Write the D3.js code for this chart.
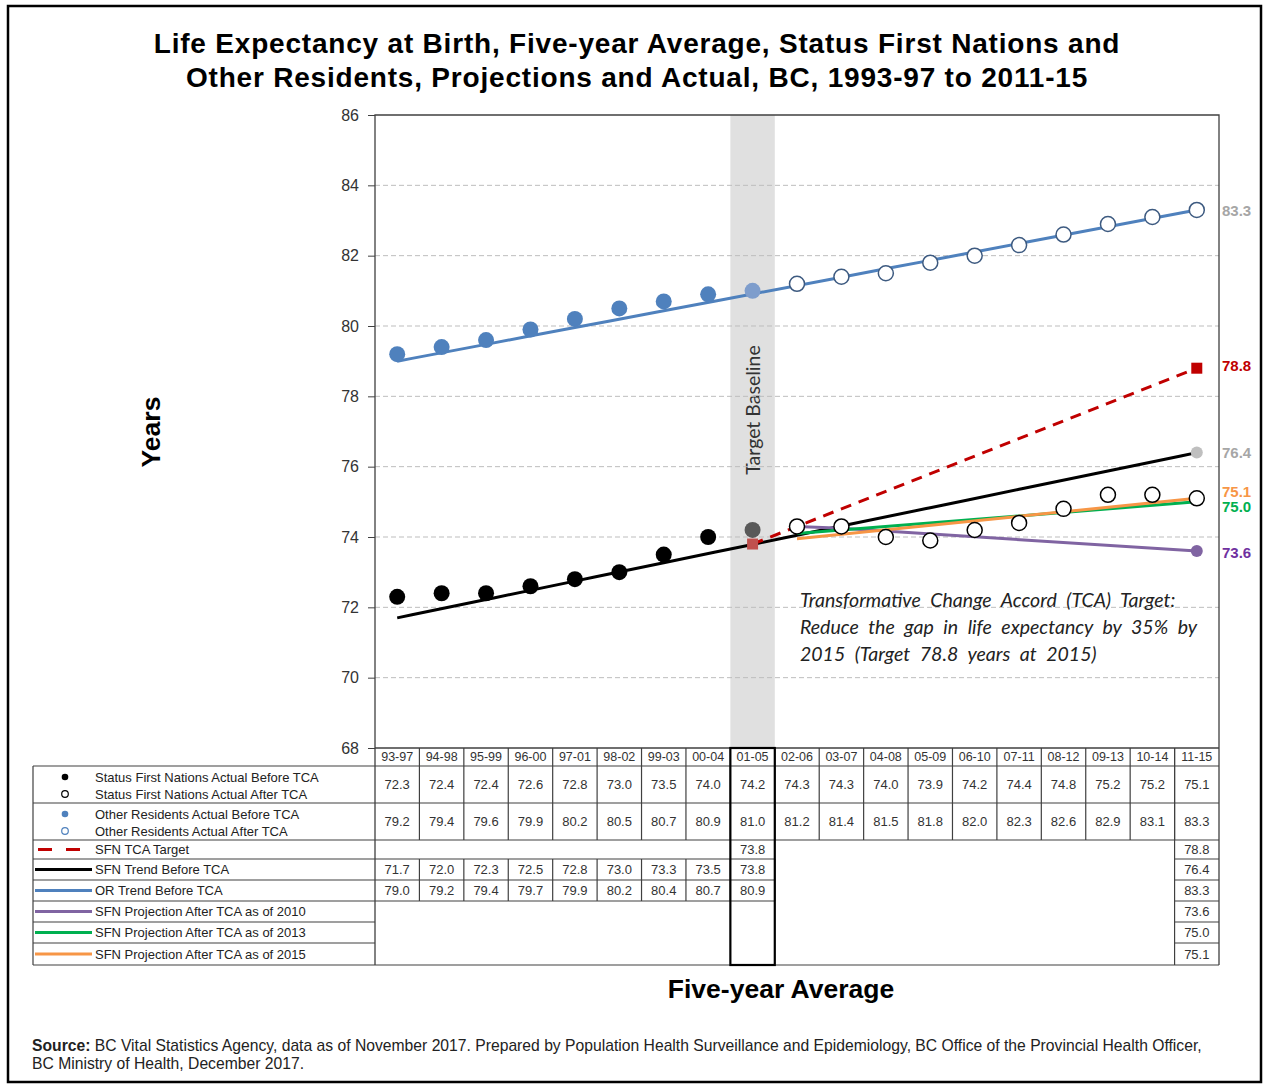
<!DOCTYPE html>
<html lang="en">
<head>
  <meta charset="UTF-8" />
  <title>Life Expectancy at Birth, Status First Nations and Other Residents</title>
  <style>
    body { margin: 0; background: #fff; }
    svg { display: block; font-family: "Liberation Sans", Arial, sans-serif; }
  </style>
  <script src="https://d3js.org/d3.v7.min.js"></script>
</head>
<body>
<svg id="chart" width="1266" height="1084"></svg>
<script>
  // five-year periods
  const periods = ['93-97','94-98','95-99','96-00','97-01','98-02','99-03','00-04','01-05','02-06',
                   '03-07','04-08','05-09','06-10','07-11','08-12','09-13','10-14','11-15'];
  const baselineIdx = 8;

  const sfnActual = [72.3,72.4,72.4,72.6,72.8,73.0,73.5,74.0,74.2,74.3,74.3,74.0,73.9,74.2,74.4,74.8,75.2,75.2,75.1];
  const orActual  = [79.2,79.4,79.6,79.9,80.2,80.5,80.7,80.9,81.0,81.2,81.4,81.5,81.8,82.0,82.3,82.6,82.9,83.1,83.3];
  const N = null;
  const tcaTarget = [N,N,N,N,N,N,N,N,73.8,N,N,N,N,N,N,N,N,N,78.8];
  const sfnTrend  = [71.7,72.0,72.3,72.5,72.8,73.0,73.3,73.5,73.8,N,N,N,N,N,N,N,N,N,76.4];
  const orTrend   = [79.0,79.2,79.4,79.7,79.9,80.2,80.4,80.7,80.9,N,N,N,N,N,N,N,N,N,83.3];
  // projections: start, end from the table
  const proj2010  = [N,N,N,N,N,N,N,N,N,74.3,74.25,N,N,N,N,N,N,N,73.6];
  const proj2013  = [N,N,N,N,N,N,N,N,N,74.1,N,N,N,N,N,N,N,N,75.0];
  const proj2015  = [N,N,N,N,N,N,N,N,N,73.95,N,N,N,N,N,N,N,N,75.1];

  const yTicks = [68,70,72,74,76,78,80,82,84,86];

  const legendLabels = [
    ['Status First Nations Actual Before TCA', 'Status First Nations Actual After TCA'],
    ['Other Residents Actual Before TCA', 'Other Residents Actual After TCA'],
    'SFN TCA Target', 'SFN Trend Before TCA', 'OR Trend Before TCA',
    'SFN Projection After TCA as of 2010', 'SFN Projection After TCA as of 2013',
    'SFN Projection After TCA as of 2015'
  ];

  const C = {
    blue: '#4f81bd', blueBase: '#7e9dcc', black: '#000', blackBase: '#595959',
    red: '#c00000', redBase: '#c0504d', purple: '#8064a2', green: '#00b050', orange: '#f79646',
    grey: '#bfbfbf', line: '#404040'
  };

  const svg = d3.select('#chart');
  const pLeft = 375, pRight = 1219, pTop = 115, pBottom = 748, tableBottom = 965, legendLeft = 33;

  const x = d3.scaleBand().domain(periods).range([pLeft, pRight]);
  const bw = x.bandwidth();
  const cx = p => x(p) + bw / 2;
  const y = d3.scaleLinear().domain([68, 86]).range([pBottom, pTop]);

  svg.append('rect').attr('width', 1266).attr('height', 1084).attr('fill', '#fff');
  svg.append('rect').attr('x', 8).attr('y', 6).attr('width', 1253).attr('height', 1076)
    .attr('fill', 'none').attr('stroke', '#000').attr('stroke-width', 2.5);

  // title
  svg.append('text').attr('x', 637).attr('text-anchor', 'middle')
    .attr('font-size', 28).attr('font-weight', 'bold').attr('letter-spacing', 0.8)
    .selectAll('tspan').data([
      'Life Expectancy at Birth, Five-year Average, Status First Nations and',
      'Other Residents, Projections and Actual, BC, 1993-97 to 2011-15'])
    .join('tspan').attr('x', 637).attr('y', (d, i) => 53 + i * 34).text(d => d);

  // target baseline band
  svg.append('rect').attr('x', x(periods[baselineIdx])).attr('y', pTop)
    .attr('width', bw).attr('height', pBottom - pTop).attr('fill', '#e0e0e0');
  svg.append('text')
    .attr('transform', `translate(${cx(periods[baselineIdx]) + 7},410) rotate(-90)`)
    .attr('text-anchor', 'middle').attr('font-family', 'Lato, "Open Sans", sans-serif')
    .attr('font-size', 19.5).attr('fill', '#333').text('Target Baseline');

  // grid
  svg.append('g').selectAll('line').data(yTicks.filter(t => t > 68 && t < 86)).join('line')
    .attr('x1', pLeft).attr('x2', pRight).attr('y1', d => y(d)).attr('y2', d => y(d))
    .attr('stroke', '#bdbdbd').attr('stroke-dasharray', '5,3');

  // y axis
  const yAxis = svg.append('g').attr('transform', `translate(${pLeft},0)`)
    .call(d3.axisLeft(y).tickValues(yTicks).tickSize(7).tickPadding(9).tickFormat(d3.format('d')));
  yAxis.select('.domain').remove();
  yAxis.selectAll('line').attr('stroke', C.line);
  yAxis.selectAll('text').attr('font-size', 16).attr('fill', '#333')
    .attr('font-family', '"Liberation Sans", Arial, sans-serif');

  // plot frame
  svg.append('path')
    .attr('d', `M${pLeft},${tableBottom}V${pTop}H${pRight}V${tableBottom}M${pLeft},${pBottom}H${pRight}`)
    .attr('fill', 'none').attr('stroke', C.line).attr('stroke-width', 1.3);

  // lines
  const pts = arr => arr.map((v, i) => ({ p: periods[i], v })).filter(d => d.v != null);
  const line = d3.line().x(d => cx(d.p)).y(d => y(d.v));
  // fitted trends are straight lines: draw first to last point
  const trendLine = d3.line().x(d => cx(d.p)).y(d => y(d.v)).curve(d3.curveBundle.beta(0));
  const drawLine = (arr, color, dash, gen) => svg.append('path').datum(pts(arr))
    .attr('d', gen || line).attr('fill', 'none').attr('stroke', color).attr('stroke-width', 3)
    .attr('stroke-dasharray', dash || null);

  drawLine(orTrend, C.blue, null, trendLine);
  drawLine(sfnTrend, C.black, null, trendLine);
  drawLine(tcaTarget, C.red, '11,8');
  drawLine(proj2010, C.purple);
  drawLine(proj2013, C.green);
  drawLine(proj2015, C.orange);

  // end markers
  const last = periods.length - 1;
  svg.append('circle').attr('cx', cx(periods[last])).attr('cy', y(sfnTrend[last])).attr('r', 6).attr('fill', C.grey);
  svg.append('circle').attr('cx', cx(periods[last])).attr('cy', y(proj2010[last])).attr('r', 6).attr('fill', C.purple);
  [[baselineIdx, C.redBase], [last, C.red]].forEach(([i, col]) => {
    svg.append('rect').attr('x', cx(periods[i]) - 5.5).attr('y', y(tcaTarget[i]) - 5.5)
      .attr('width', 11).attr('height', 11).attr('fill', col);
  });

  // actual markers
  const drawDots = (arr, fill, base, openStroke) => {
    svg.append('g').selectAll('circle').data(arr).join('circle')
      .attr('cx', (d, i) => cx(periods[i])).attr('cy', d => y(d))
      .attr('r', (d, i) => i > baselineIdx ? 7.5 : 8)
      .attr('fill', (d, i) => i < baselineIdx ? fill : i === baselineIdx ? base : '#fff')
      .attr('stroke', (d, i) => i > baselineIdx ? openStroke : 'none')
      .attr('stroke-width', 1.5);
  };
  drawDots(orActual, C.blue, C.blueBase, '#3d5a80');
  drawDots(sfnActual, C.black, C.blackBase, '#000');

  // right-hand value labels
  const endLabels = [
    { v: orTrend[last], col: '#a6a6a6', dy: 1 },
    { v: tcaTarget[last], col: C.red, dy: -2 },
    { v: sfnTrend[last], col: '#a6a6a6', dy: 0 },
    { v: proj2015[last], col: C.orange, dy: -7 },
    { v: proj2013[last], col: C.green, dy: 5 },
    { v: proj2010[last], col: '#7030a0', dy: 2 }
  ];
  svg.append('g').selectAll('text').data(endLabels).join('text')
    .attr('x', pRight + 3).attr('y', d => y(d.v) + d.dy).attr('dy', '0.35em')
    .attr('font-size', 15).attr('font-weight', 'bold').attr('fill', d => d.col)
    .text(d => d.v.toFixed(1));

  // annotation
  svg.append('text').attr('font-family', 'Lato, "Open Sans", sans-serif').attr('font-style', 'italic')
    .attr('font-size', 19.5).attr('fill', '#222').attr('word-spacing', 5)
    .selectAll('tspan').data([
      'Transformative Change Accord (TCA) Target:',
      'Reduce the gap in life expectancy by 35% by',
      '2015 (Target 78.8 years at 2015)'])
    .join('tspan').attr('x', 800).attr('y', (d, i) => 607 + i * 27).text(d => d);

  // axis titles
  svg.append('text').attr('transform', 'translate(160,432) rotate(-90)').attr('text-anchor', 'middle')
    .attr('font-size', 26.5).attr('font-weight', 'bold').text('Years');
  svg.append('text').attr('x', 781).attr('y', 998).attr('text-anchor', 'middle')
    .attr('font-size', 26.5).attr('font-weight', 'bold').text('Five-year Average');

  // data table
  const rowEdges = [766, 803, 840, 859, 880, 901, 922, 943, 965];
  const tableRows = [sfnActual, orActual, tcaTarget, sfnTrend, orTrend, proj2010, proj2013, proj2015];
  const tg = svg.append('g').attr('stroke', C.line).attr('stroke-width', 1.2);
  const hl = (y0, x1, x2) => tg.append('line').attr('x1', x1).attr('x2', x2).attr('y1', y0).attr('y2', y0);
  const vl = (x0, y1, y2) => tg.append('line').attr('x1', x0).attr('x2', x0).attr('y1', y1).attr('y2', y2);
  const baseR = x(periods[baselineIdx]) + bw, lastL = x(periods[last]);

  [766, 803, 840, 965].forEach(e => hl(e, legendLeft, pRight));
  [859, 880, 901].forEach(e => { hl(e, legendLeft, baseR); hl(e, lastL, pRight); });
  [922, 943].forEach(e => { hl(e, legendLeft, pLeft); hl(e, lastL, pRight); });
  vl(legendLeft, 766, tableBottom);
  periods.forEach((p, i) => {
    if (i > 0) vl(x(p), pBottom, 840);
    if (i > 0 && i <= baselineIdx + 1) vl(x(p), 859, 901);
  });
  vl(lastL, pBottom, tableBottom);
  svg.append('rect').attr('x', x(periods[baselineIdx])).attr('y', pBottom)
    .attr('width', bw).attr('height', tableBottom - pBottom)
    .attr('fill', 'none').attr('stroke', '#000').attr('stroke-width', 2.2);

  svg.append('g').selectAll('text').data(periods).join('text')
    .attr('x', d => cx(d)).attr('y', 757).attr('dy', '0.35em').attr('text-anchor', 'middle')
    .attr('font-size', 12.5).attr('fill', '#333').text(d => d);

  tableRows.forEach((arr, r) => {
    const isProj = r >= 5;
    const yMid = (rowEdges[r] + rowEdges[r + 1]) / 2;
    svg.append('g').selectAll('text')
      .data(arr.map((v, i) => ({ v, i })).filter(d => d.v != null && (!isProj || d.i === last)))
      .join('text')
      .attr('x', d => cx(periods[d.i])).attr('y', yMid).attr('dy', '0.35em')
      .attr('text-anchor', 'middle').attr('font-size', 13).attr('fill', '#333')
      .text(d => d.v.toFixed(1));
  });

  // legend column
  const lg = svg.append('g').attr('font-size', 13).attr('fill', '#222');
  const lgMarkers = [
    [{ fill: '#000', stroke: 'none' }, { fill: '#fff', stroke: '#000' }],
    [{ fill: C.blue, stroke: 'none' }, { fill: '#fff', stroke: C.blue }]
  ];
  [0, 1].forEach(r => {
    [0, 1].forEach(k => {
      const yy = rowEdges[r] + 11 + k * 17;
      const m = lgMarkers[r][k];
      lg.append('circle').attr('cx', 65).attr('cy', yy).attr('r', 3.3)
        .attr('fill', m.fill).attr('stroke', m.stroke).attr('stroke-width', 1.2);
      lg.append('text').attr('x', 95).attr('y', yy).attr('dy', '0.35em').text(legendLabels[r][k]);
    });
  });
  const lineCols = [C.red, C.black, C.blue, C.purple, C.green, C.orange];
  lineCols.forEach((col, k) => {
    const r = k + 2;
    const yy = (rowEdges[r] + rowEdges[r + 1]) / 2;
    if (r === 2) {
      lg.append('line').attr('x1', 38).attr('x2', 80).attr('y1', yy).attr('y2', yy)
        .attr('stroke', col).attr('stroke-width', 3).attr('stroke-dasharray', '14,14');
    } else {
      lg.append('line').attr('x1', 35).attr('x2', 92).attr('y1', yy).attr('y2', yy)
        .attr('stroke', col).attr('stroke-width', 3);
    }
    lg.append('text').attr('x', 95).attr('y', yy).attr('dy', '0.35em').text(legendLabels[r]);
  });

  // source
  const src = svg.append('g').attr('font-size', 15.7).attr('fill', '#222');
  const s1 = src.append('text').attr('x', 32).attr('y', 1051);
  s1.append('tspan').attr('font-weight', 'bold').text('Source:');
  s1.append('tspan').text(' BC Vital Statistics Agency, data as of November  2017. Prepared by Population Health Surveillance and Epidemiology, BC Office of the Provincial Health Officer,');
  src.append('text').attr('x', 32).attr('y', 1069).text('BC Ministry of Health, December 2017.');
</script>
</body>
</html>
